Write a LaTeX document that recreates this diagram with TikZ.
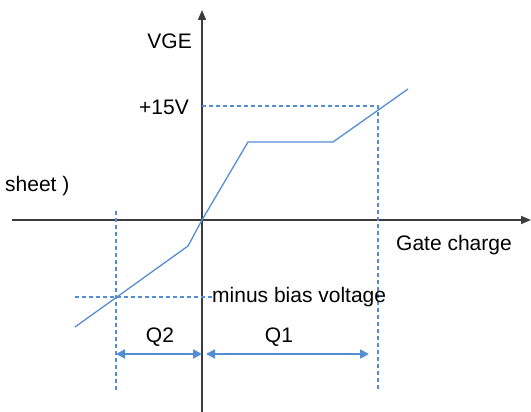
\documentclass[tikz,border=0pt]{standalone}
\usepackage{fontspec}
\setmainfont{Liberation Sans}
\usetikzlibrary{arrows.meta}
\definecolor{curveblue}{RGB}{84,141,212}
\definecolor{axisgray}{RGB}{60,60,60}
\tikzset{
  axis/.style={axisgray, line width=1.5pt, -{Triangle[length=10pt,width=8pt]}},
  guide/.style={curveblue, line width=1.2pt, dash pattern=on 4pt off 3pt},
  qspan/.style={curveblue, line width=1.8pt, {Triangle[length=9pt,width=9pt]}-{Triangle[length=9pt,width=9pt]}},
  lbl/.style={font=\fontsize{21}{24}\selectfont, inner sep=0pt},
}
\begin{document}
\begin{tikzpicture}[x=1pt, y=-1pt]
  \useasboundingbox (0,0) rectangle (531,412);
  % axes
  \coordinate (O) at (202,220);
  \coordinate (ybot) at (202,412);
  \coordinate (ytop) at (202,10);
  \coordinate (xleft) at (12,220);
  \coordinate (xright) at (531,220);
  \draw [axis] (ybot) -- (ytop);
  \draw [axis] (xleft) -- (xright);
  % gate charge curve
  \coordinate (C0) at (75,327);
  \coordinate (Cneg) at (116,297);
  \coordinate (C1) at (188,246);
  \coordinate (C2) at (248,142);
  \coordinate (C3) at (333,142);
  \coordinate (Cpos) at (378,106);
  \coordinate (C4) at (408,89);
  \draw [curveblue, line width=1.3pt] (C0) -- (C1) -- (O) -- (C2) -- (C3) -- (C4);
  % guides
  \coordinate (Vpos) at (202,106);
  \coordinate (Qpos) at (378,390);
  \coordinate (Qnegtop) at (116,211);
  \coordinate (Qneg) at (116,392);
  \coordinate (Vneg) at (75,297);
  \coordinate (Vnegend) at (212,297);
  \draw [guide] (Vpos) -- (Cpos) -- (Qpos);
  \draw [guide] (Qnegtop) -- (Qneg);
  \draw [guide] (Vneg) -- (Vnegend);
  % charge spans
  \coordinate (Q2a) at (116,354);
  \coordinate (Q2b) at (202,354);
  \coordinate (Q1a) at (206,354);
  \coordinate (Q1b) at (369,354);
  \draw [qspan] (Q2a) -- (Q2b);
  \draw [qspan] (Q1a) -- (Q1b);
  % labels
  \node [lbl, anchor=base east] (vge) at (192,49) {VGE};
  \node [lbl, anchor=base east] (plus15) at (189,115) {+15V};
  \node [lbl, anchor=base west] (sheet) at (5,192) {sheet )};
  \node [lbl, anchor=base west] (gatecharge) at (396,251) {Gate charge};
  \node [lbl, anchor=base west] (minusbias) at (212,302) {minus bias voltage};
  \node [lbl, anchor=base] (q2) at (160,342) {Q2};
  \node [lbl, anchor=base] (q1) at (279,342) {Q1};
\end{tikzpicture}
\end{document}
